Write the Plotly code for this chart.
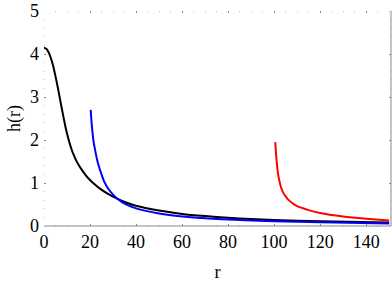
import plotly.graph_objects as go

# black curve
r_black = [0, 1, 2, 3, 4, 5, 6, 7, 8, 9, 10, 11, 12, 13, 14, 16, 18, 20, 22, 24, 28, 32, 36, 40, 50, 60, 70, 80, 90, 100, 120, 150]
h_black = [4.15, 4.12, 4.04, 3.90, 3.72, 3.48, 3.22, 2.94, 2.66, 2.39, 2.15, 1.95, 1.78, 1.64, 1.52, 1.34, 1.19, 1.07, 0.97, 0.88, 0.74, 0.63, 0.54, 0.47, 0.36, 0.28, 0.23, 0.19, 0.16, 0.14, 0.11, 0.08]

# blue curve
r_blue = [20.3, 20.6, 21, 21.5, 22.2, 23, 24, 25, 26, 28, 30, 32, 35, 40, 50, 60, 70, 80, 100, 120, 150]
h_blue = [2.70, 2.45, 2.22, 1.98, 1.77, 1.56, 1.36, 1.20, 1.05, 0.86, 0.73, 0.63, 0.52, 0.41, 0.29, 0.22, 0.18, 0.15, 0.11, 0.085, 0.06]

# red curve
r_red = [100.5, 100.8, 101.2, 101.7, 102.3, 103, 104, 105, 106, 108, 110, 115, 120, 130, 140, 150]
h_red = [1.95, 1.7, 1.45, 1.22, 1.05, 0.9, 0.77, 0.69, 0.62, 0.53, 0.46, 0.37, 0.3, 0.22, 0.17, 0.13]

x_ticks = [0, 20, 40, 60, 80, 100, 120, 140]
y_ticks = [0, 1, 2, 3, 4, 5]

fig = go.Figure()
for rr, hh, col in [(r_black, h_black, "black"), (r_blue, h_blue, "blue"), (r_red, h_red, "red")]:
    fig.add_trace(go.Scatter(x=rr, y=hh, mode="lines",
                             line=dict(color=col, width=2, shape="spline", smoothing=0.5),
                             showlegend=False, hoverinfo="skip"))

font = dict(family="Liberation Serif", size=18, color="black")

fig.update_layout(
    width=392, height=283,
    margin=dict(l=44, r=1, t=11, b=57),
    plot_bgcolor="white", paper_bgcolor="white",
    font=font,
    xaxis=dict(range=[0, 150.8], tickvals=x_ticks, ticktext=[str(v) for v in x_ticks],
               showgrid=False, zeroline=False, showline=False, automargin=False,
               ticks="inside", ticklen=2, tickcolor="#888", mirror="allticks",
               ticklabelstandoff=3,
               minor=dict(dtick=5, ticks="inside", ticklen=1, tickcolor="#bbb", showgrid=False),
               title=dict(text="r", font=font, standoff=14), tickfont=font),
    yaxis=dict(range=[0, 5], tickvals=y_ticks, ticktext=[str(v) for v in y_ticks],
               showgrid=False, zeroline=False, showline=False, automargin=False,
               ticks="inside", ticklen=2, tickcolor="#888", mirror="allticks",
               ticklabelstandoff=4,
               minor=dict(dtick=0.2, ticks="inside", ticklen=1, tickcolor="#bbb", showgrid=False),
               title=dict(text="h(r)", font=font, standoff=4), tickfont=font),
    shapes=[
        dict(type="line", xref="paper", yref="paper", x0=0, x1=1, y0=0, y1=0,
             line=dict(color="#888", width=1)),
        dict(type="line", xref="paper", yref="paper", x0=1, x1=1, y0=0, y1=1,
             line=dict(color="#888", width=1)),
    ],
)

fig.write_html("out.html", config={"displayModeBar": False},
               post_script="document.body.style.margin='0';document.body.style.padding='0';")
